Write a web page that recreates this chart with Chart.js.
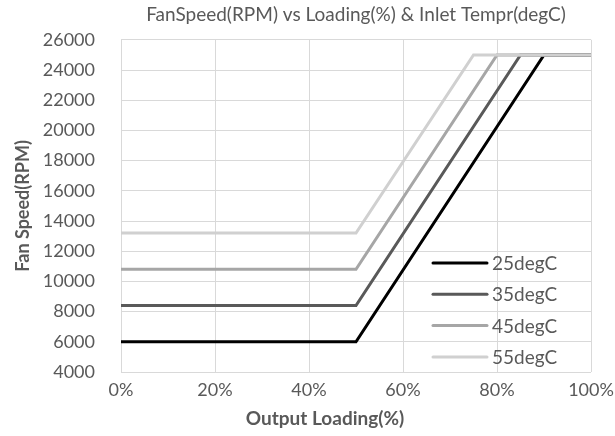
<!DOCTYPE html>
<html>
<head>
<meta charset="utf-8">
<script src="https://cdn.jsdelivr.net/npm/chart.js@4/dist/chart.umd.min.js"></script>
<style>
  body { margin: 0; background: #fff; }
  #wrap { width: 615px; height: 436px; }
</style>
</head>
<body>
<div id="wrap"><canvas id="fanChart" width="615" height="436"></canvas></div>
<script>
// series: output loading (%) -> fan speed (rpm)
const seriesNames = ['25degC', '35degC', '45degC', '55degC'];
const loading25 = [0, 50, 90, 100];
const rpm25 = [6000, 6000, 25000, 25000];
const loading35 = [0, 50, 85, 100];
const rpm35 = [8400, 8400, 25000, 25000];
const loading45 = [0, 50, 80, 100];
const rpm45 = [10800, 10800, 25000, 25000];
const loading55 = [0, 50, 75, 100];
const rpm55 = [13200, 13200, 25000, 25000];
const lineColors = ['#000000', '#595959', '#a6a6a6', '#d0d0d0'];

const xs = [loading25, loading35, loading45, loading55];
const ys = [rpm25, rpm35, rpm45, rpm55];

const textColor = '#595959';
const fontFam = 'Lato, "Open Sans", sans-serif';

// legend + x axis title drawn by hand (excel puts them off-centre)
const extras = {
    id: 'extras',
    afterDraw(chart) {
        const c = chart.ctx;
        const x0 = 433, x1 = 487, y0 = 263, step = 31.3;
        c.save();
        c.font = '19px ' + fontFam;
        c.textBaseline = 'middle';
        seriesNames.forEach((name, i) => {
            const y = y0 + i * step;
            c.strokeStyle = lineColors[i];
            c.lineWidth = 3;
            c.lineCap = 'round';
            c.beginPath();
            c.moveTo(x0, y);
            c.lineTo(x1, y);
            c.stroke();
            c.fillStyle = textColor;
            c.fillText(name, x1 + 5, y + 1);
        });
        c.font = 'bold 19px ' + fontFam;
        c.textAlign = 'center';
        c.fillText('Output Loading(%)', 325, 419);
        c.restore();
    }
};

new Chart(document.getElementById('fanChart'), {
    type: 'line',
    data: {
        datasets: seriesNames.map((name, i) => ({
            label: name,
            data: xs[i].map((x, j) => ({ x: x, y: ys[i][j] })),
            borderColor: lineColors[i],
            backgroundColor: lineColors[i],
            borderWidth: 3,
            pointRadius: 0,
            tension: 0,
            fill: false
        })).reverse()
    },
    options: {
        responsive: false,
        animation: false,
        layout: { padding: { left: 0, right: 24, top: 0, bottom: 0 } },
        plugins: {
            legend: { display: false },
            tooltip: { enabled: false },
            title: {
                display: true,
                fullSize: false,
                text: 'FanSpeed(RPM) vs Loading(%) & Inlet Tempr(degC)',
                color: textColor,
                font: { family: fontFam, size: 19, weight: 'normal' },
                padding: { top: 3, bottom: 14 }
            }
        },
        scales: {
            x: {
                type: 'linear',
                min: 0,
                max: 100,
                grid: { color: '#d9d9d9', drawTicks: false },
                border: { display: false },
                ticks: {
                    stepSize: 20,
                    color: textColor,
                    padding: 7,
                    maxRotation: 0,
                    font: { family: fontFam, size: 18 },
                    callback: v => v + '%'
                },
                afterFit: s => { s.height = 64; s.paddingRight = 0; s.paddingLeft = 0; }
            },
            y: {
                min: 4000,
                max: 26000,
                grid: { color: '#d9d9d9', drawTicks: false },
                border: { display: false },
                ticks: {
                    stepSize: 2000,
                    color: textColor,
                    padding: 26,
                    font: { family: fontFam, size: 18 },
                    callback: v => String(v)
                },
                title: {
                    display: true,
                    text: 'Fan Speed(RPM)',
                    color: textColor,
                    padding: { top: 12, bottom: 0 },
                    font: { family: fontFam, size: 18, weight: 'bold' }
                },
                afterFit: s => { s.width = 121; }
            }
        }
    },
    plugins: [extras]
});
</script>
</body>
</html>
